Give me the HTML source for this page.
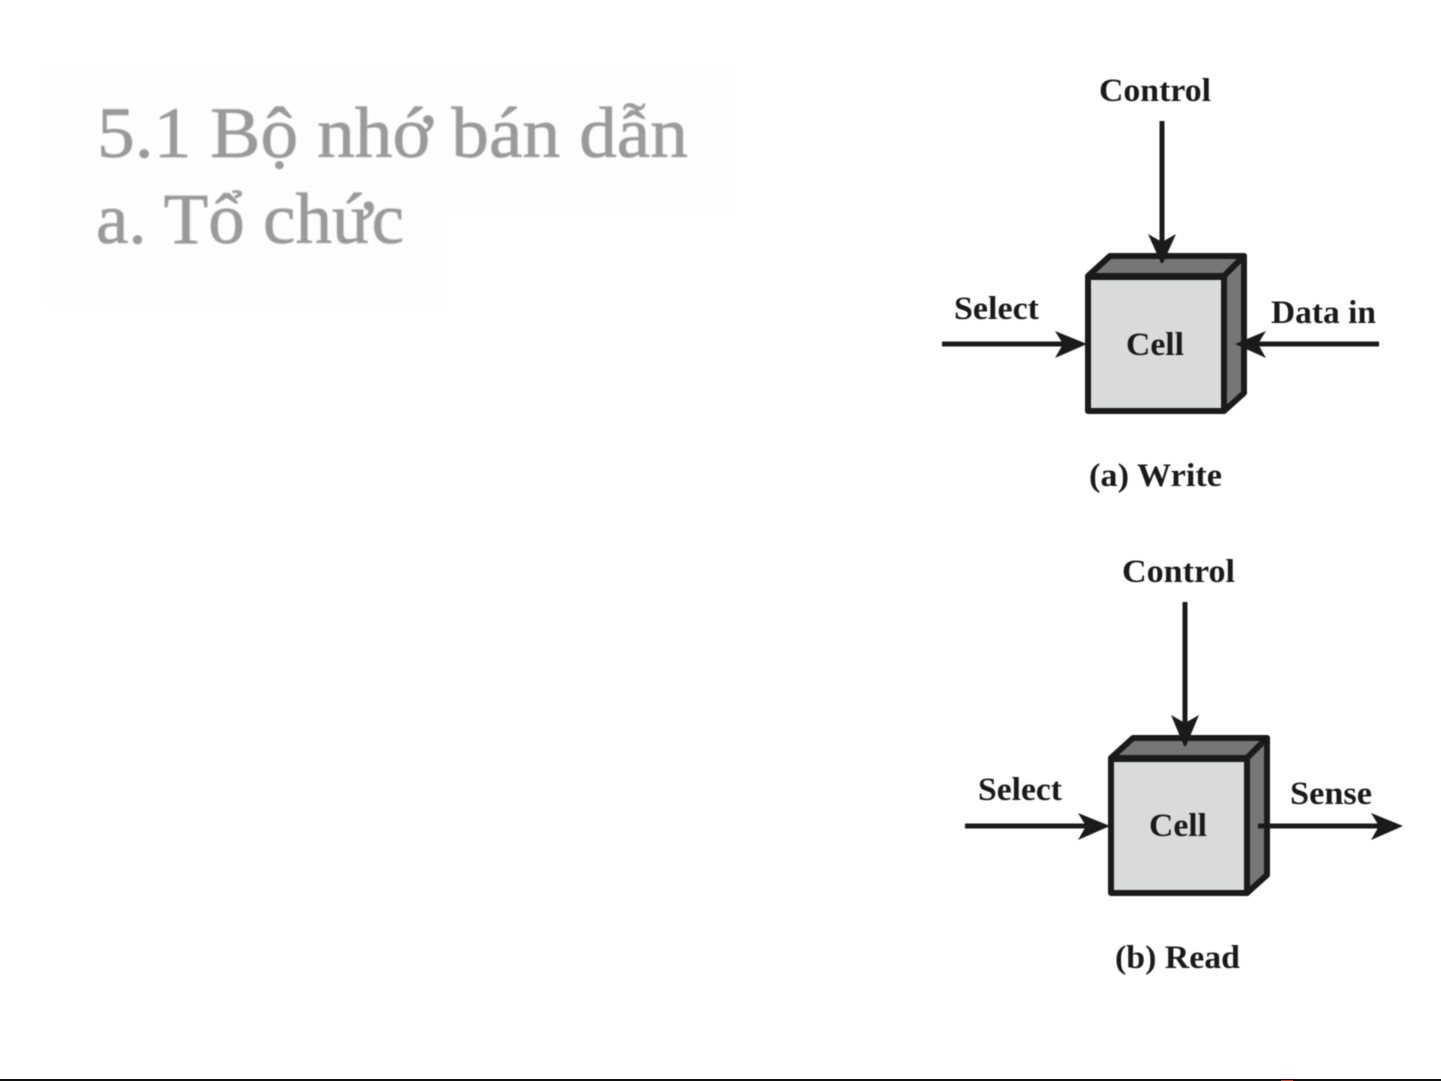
<!DOCTYPE html>
<html>
<head>
<meta charset="utf-8">
<style>
html,body{margin:0;padding:0;background:#fff;width:1441px;height:1081px;overflow:hidden}
svg{display:block}
.t{font-family:"Liberation Serif",serif;font-weight:bold;fill:#1a1a1a;font-size:33px}
.h{font-family:"Liberation Serif",serif;fill:#9a9a9a;stroke:#9a9a9a;stroke-width:0.7px;font-size:72px}
.b{filter:blur(0.6px)}
.h2{filter:blur(0.9px)}
</style>
</head>
<body>
<svg width="1441" height="1081" viewBox="0 0 1441 1081" xmlns="http://www.w3.org/2000/svg">
<rect width="1441" height="1081" fill="#ffffff"/>
<rect x="46" y="64" width="690" height="150" fill="#fefefe"/>
<rect x="46" y="214" width="400" height="96" fill="#fefefe"/>
<g class="h2">
<text class="h" x="97" y="157" textLength="591" lengthAdjust="spacingAndGlyphs">5.1 Bộ nhớ bán dẫn</text>
<text class="h" x="96" y="243" textLength="308" lengthAdjust="spacingAndGlyphs">a. Tổ chức</text>
</g>

<g class="b">
<!-- Write -->
<g>
<polygon points="1088,276 1110,256 1244,256 1224,276" fill="#767676" stroke="#1a1a1a" stroke-width="6" stroke-linejoin="round"/>
<polygon points="1224,276 1244,256 1244,393 1224,411" fill="#767676" stroke="#1a1a1a" stroke-width="6" stroke-linejoin="round"/>
<rect x="1088" y="277" width="136" height="134" fill="#d9dbdb" stroke="#1a1a1a" stroke-width="6" stroke-linejoin="round"/>
<rect x="1159.5" y="121" width="5" height="125" fill="#1a1a1a"/>
<polygon points="1148,234 1162,242 1176,234 1163,263 1161,263" fill="#1a1a1a"/>
<rect x="942" y="341.5" width="130" height="5" fill="#1a1a1a"/>
<polygon points="1055,331 1087,344 1055,358 1063,344" fill="#1a1a1a"/>
<rect x="1248" y="341.5" width="131" height="5" fill="#1a1a1a"/>
<polygon points="1266,331 1235,344 1266,358 1258,344" fill="#1a1a1a"/>
<text class="t" x="1099" y="101" textLength="112" lengthAdjust="spacingAndGlyphs">Control</text>
<text class="t" x="954" y="319" textLength="85" lengthAdjust="spacingAndGlyphs">Select</text>
<text class="t" x="1271" y="323" textLength="105" lengthAdjust="spacingAndGlyphs">Data in</text>
<text class="t" x="1126" y="355" textLength="58" lengthAdjust="spacingAndGlyphs">Cell</text>
<text class="t" x="1089" y="486" textLength="133" lengthAdjust="spacingAndGlyphs">(a) Write</text>
</g>
<!-- Read -->
<g>
<polygon points="1111,758 1133,738 1267,738 1247,758" fill="#767676" stroke="#1a1a1a" stroke-width="6" stroke-linejoin="round"/>
<polygon points="1247,758 1267,738 1267,875 1247,893" fill="#767676" stroke="#1a1a1a" stroke-width="6" stroke-linejoin="round"/>
<rect x="1111" y="759" width="136" height="134" fill="#d9dbdb" stroke="#1a1a1a" stroke-width="6" stroke-linejoin="round"/>
<rect x="1182.5" y="602" width="5" height="125" fill="#1a1a1a"/>
<polygon points="1171,715 1185,723 1199,715 1186,746 1184,746" fill="#1a1a1a"/>
<rect x="965" y="823.5" width="130" height="5" fill="#1a1a1a"/>
<polygon points="1078,813 1110,826 1078,840 1086,826" fill="#1a1a1a"/>
<rect x="1258" y="823.5" width="125" height="5" fill="#1a1a1a"/>
<polygon points="1371,813 1403,826 1371,840 1379,826" fill="#1a1a1a"/>
<text class="t" x="1122" y="582" textLength="113" lengthAdjust="spacingAndGlyphs">Control</text>
<text class="t" x="978" y="800" textLength="84" lengthAdjust="spacingAndGlyphs">Select</text>
<text class="t" x="1290" y="804" textLength="82" lengthAdjust="spacingAndGlyphs">Sense</text>
<text class="t" x="1149" y="836" textLength="58" lengthAdjust="spacingAndGlyphs">Cell</text>
<text class="t" x="1115" y="968" textLength="125" lengthAdjust="spacingAndGlyphs">(b) Read</text>
</g>
</g>

<rect x="0" y="1079" width="1441" height="2" fill="#111111"/>
<rect x="1281" y="1080" width="12" height="1" fill="#c0392b"/>
</svg>
</body>
</html>
